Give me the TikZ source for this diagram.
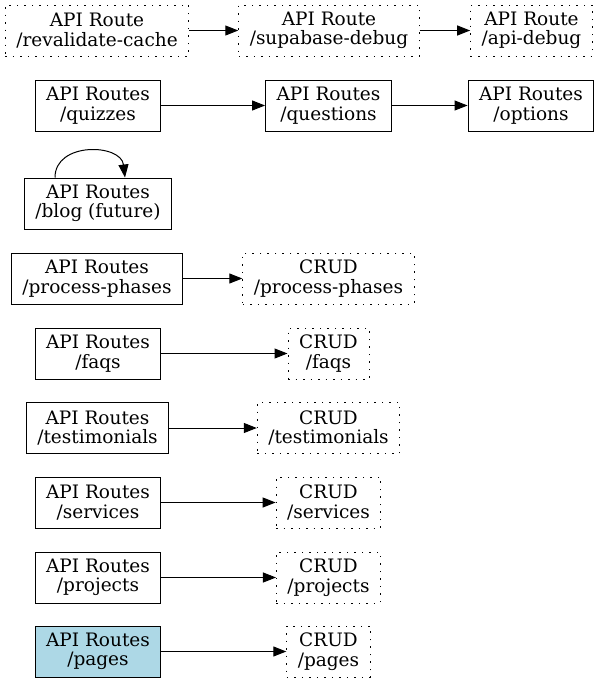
\documentclass[tikz,border=0pt]{standalone}
\usepackage{fontspec}
\setmainfont{DejaVu Serif}
\usetikzlibrary{arrows.meta}
\tikzset{
  box/.style={draw, line width=1pt, align=center, inner xsep=11pt, inner ysep=0pt,
    minimum width=81pt, minimum height=51pt, font=\fontsize{18.5}{19.5}\selectfont},
  route/.style={box},
  crud/.style={box, dash pattern=on 1.5pt off 6pt},
  edge/.style={line width=1pt, -{Triangle[length=13pt,width=10pt]}}
}
\begin{document}
\begin{tikzpicture}[x=1pt, y=-1pt]
      \useasboundingbox (0,0) rectangle (600,683);
      \node[crud] (revalidate) at (97,30.5) {API Route\\/revalidate-cache};
      \node[crud] (supadebug) at (329,30.5) {API Route\\/supabase-debug};
      \node[crud] (apidebug) at (531.5,30.5) {API Route\\/api-debug};
      \node[route] (quizzes) at (98,105.5) {API Routes\\/quizzes};
      \node[route] (questions) at (328.5,105.5) {API Routes\\/questions};
      \node[route] (options) at (531,105.5) {API Routes\\/options};
      \node[route] (blog) at (98,203.5) {API Routes\\/blog (future)};
      \node[route] (phases) at (97,278.5) {API Routes\\/process-phases};
      \node[crud] (crudphases) at (328.5,278.5) {CRUD\\/process-phases};
      \node[route] (faqs) at (98,353.5) {API Routes\\/faqs};
      \node[crud] (crudfaqs) at (328.5,353.5) {CRUD\\/faqs};
      \node[route] (testimonials) at (97.5,428) {API Routes\\/testimonials};
      \node[crud] (crudtestimonials) at (328.5,428) {CRUD\\/testimonials};
      \node[route] (services) at (98,502.5) {API Routes\\/services};
      \node[crud] (crudservices) at (328.5,502.5) {CRUD\\/services};
      \node[route] (projects) at (98,577.5) {API Routes\\/projects};
      \node[crud] (crudprojects) at (328.5,577.5) {CRUD\\/projects};
      \node[route, fill={rgb,255:red,173;green,216;blue,230}] (pages) at (98,651.5) {API Routes\\/pages};
      \node[crud] (crudpages) at (328.5,651.5) {CRUD\\/pages};
      \begin{scope}[edge]
        \draw (revalidate) to (supadebug);
        \draw (supadebug) to (apidebug);
        \draw (quizzes) to (questions);
        \draw (questions) to (options);
        \draw ([xshift=-43pt]blog.north) .. controls +(0,-36) and +(-4,-34) .. ([xshift=27pt]blog.north);
        \draw (phases) to (crudphases);
        \draw (faqs) to (crudfaqs);
        \draw (testimonials) to (crudtestimonials);
        \draw (services) to (crudservices);
        \draw (projects) to (crudprojects);
        \draw (pages) to (crudpages);
      \end{scope}
    \end{tikzpicture}
\end{document}
